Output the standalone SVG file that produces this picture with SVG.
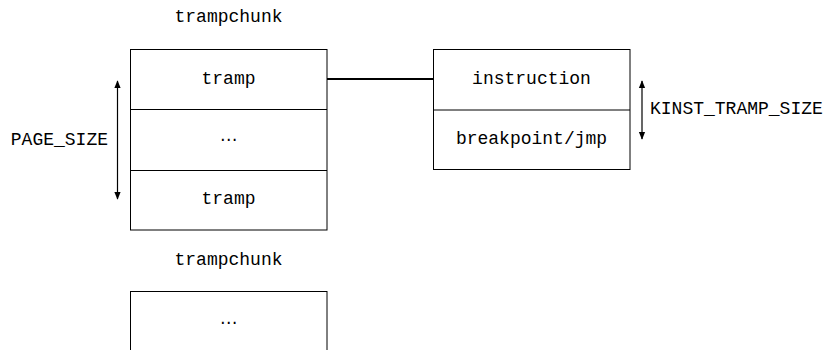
<svg xmlns="http://www.w3.org/2000/svg" width="830" height="350" viewBox="0 0 830 350">
<defs>
<marker id="ah" viewBox="0 0 10 10" refX="9" refY="5" markerWidth="8" markerHeight="8" orient="auto-start-reverse" markerUnits="userSpaceOnUse">
<path d="M0,1 L10,5 L0,9 z" fill="#000"/>
</marker>
<style>
text{font-family:"Liberation Mono","DejaVu Sans Mono",monospace;font-size:18px;fill:#000}
.c{text-anchor:middle;dominant-baseline:central}
.dots{font-family:"DejaVu Sans","Noto Sans",sans-serif;font-size:17px}
.box{fill:#fff;stroke:#000;stroke-width:1}
.div{stroke:#000;stroke-width:1}
.dim{stroke:#000;stroke-width:1.2;fill:none}
</style>
</defs>
<rect width="830" height="350" fill="#fff"/>
<g id="chunk1">
<text class="c" x="228.5" y="17">trampchunk</text>
<rect class="box" x="130.5" y="49.5" width="196.5" height="180.5"/>
<line class="div" x1="130.5" y1="109.5" x2="327" y2="109.5"/>
<line class="div" x1="130.5" y1="170.5" x2="327" y2="170.5"/>
<text class="c" x="228.5" y="79">tramp</text>
<text class="c dots" x="228.5" y="139">⋯</text>
<text class="c" x="228.5" y="199">tramp</text>
</g>
<g id="pagesize">
<line class="dim" x1="117.5" y1="81" x2="117.5" y2="199" marker-start="url(#ah)" marker-end="url(#ah)"/>
<text x="108" y="140" text-anchor="end" dominant-baseline="central">PAGE_SIZE</text>
</g>
<g id="tramp">
<rect class="box" x="433.5" y="49.5" width="196.5" height="120"/>
<line class="div" x1="433.5" y1="110" x2="630" y2="110"/>
<text class="c" x="531.5" y="79">instruction</text>
<text class="c" x="531.5" y="139">breakpoint/jmp</text>
</g>
<g id="kinst">
<line class="dim" x1="642" y1="81" x2="642" y2="139" marker-start="url(#ah)" marker-end="url(#ah)"/>
<text x="650" y="109" dominant-baseline="central">KINST_TRAMP_SIZE</text>
</g>
<g id="chunk2">
<text class="c" x="228.5" y="260">trampchunk</text>
<rect class="box" x="130.5" y="291.5" width="196.5" height="80"/>
<text class="c dots" x="228.5" y="322">⋯</text>
</g>
<g id="connectors">
<line x1="327" y1="79" x2="433.5" y2="79" stroke="#000" stroke-width="2"/>
</g>
</svg>
